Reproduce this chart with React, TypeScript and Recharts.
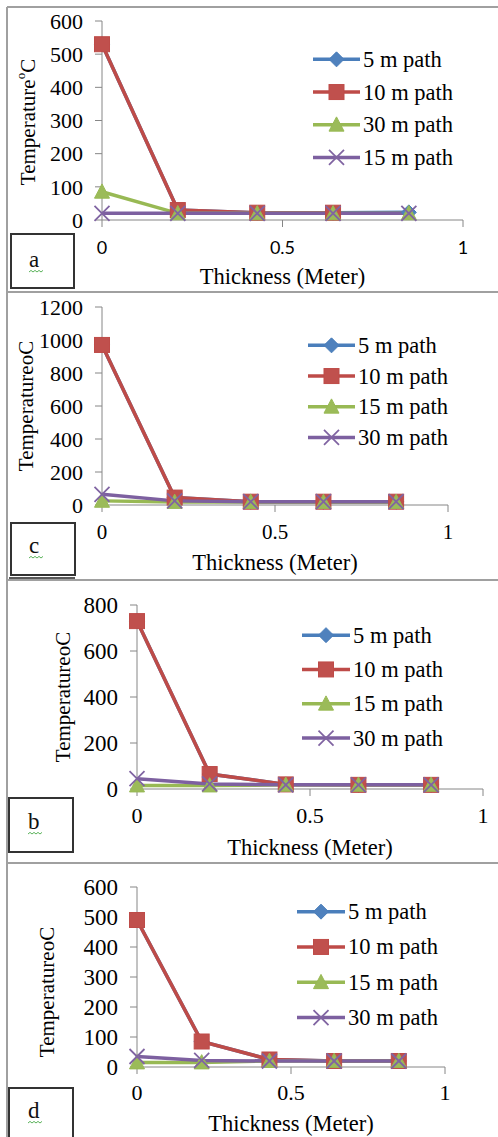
import React from 'react';
import { LineChart, Line, XAxis, YAxis, Legend } from 'recharts';

// ---------- data ----------
const thickness = [0, 0.21, 0.43, 0.64, 0.85];
const xTicks = [0, 0.5, 1];
const xTitle = 'Thickness (Meter)';

// panel a
const aNames = ['5 m path', '10 m path', '30 m path', '15 m path'];
const a5 = [530, 30, 22, 22, 23];
const a10 = [530, 30, 22, 22, null];
const a30 = [85, 20, 20, 20, 20];
const a15 = [20, 20, 20, 20, 20];
const aYTicks = [0, 100, 200, 300, 400, 500, 600];

// panel c
const cNames = ['5 m path', '10 m path', '15 m path', '30 m path'];
const c5 = [970, 45, 20, 20, 20];
const c10 = [970, 45, 20, 20, 20];
const c15 = [25, 18, 18, 18, 18];
const c30 = [65, 25, 20, 20, 20];
const cYTicks = [0, 200, 400, 600, 800, 1000, 1200];

// panel b
const bNames = ['5 m path', '10 m path', '15 m path', '30 m path'];
const b5 = [730, 65, 20, 18, 18];
const b10 = [730, 65, 20, 18, 18];
const b15 = [15, 15, 18, 18, 18];
const b30 = [45, 22, 18, 18, 18];
const bYTicks = [0, 200, 400, 600, 800];

// panel d
const dNames = ['5 m path', '10 m path', '15 m path', '30 m path'];
const d5 = [490, 85, 25, 20, 20];
const d10 = [490, 85, 25, 20, 20];
const d15 = [15, 15, 20, 20, 20];
const d30 = [35, 22, 20, 20, 20];
const dYTicks = [0, 100, 200, 300, 400, 500, 600];

// ---------- styles ----------
const SERIF = '"Liberation Serif", "Times New Roman", serif';
const SANS = 'Lato, "Liberation Sans", sans-serif';
const AXIS = '#868686';
const KINDS = ['diamond', 'square', 'triangle', 'x'];
const LINE_COLORS = ['#4A7EBB', '#BE4B48', '#98B954', '#7D60A0'];
const FILL_COLORS = ['#4F81BD', '#C0504D', '#9BBB59', '#8064A2'];

function Marker({ kind, cx, cy, s }: { kind: string; cx: number; cy: number; s: number }) {
  const h = s / 2;
  if (kind === 'diamond') {
    return (
      <polygon
        points={`${cx},${cy - h} ${cx + h},${cy} ${cx},${cy + h} ${cx - h},${cy}`}
        fill={FILL_COLORS[0]}
        stroke={LINE_COLORS[0]}
        strokeWidth={1}
      />
    );
  }
  if (kind === 'square') {
    return <rect x={cx - h} y={cy - h} width={s} height={s} fill={FILL_COLORS[1]} stroke={LINE_COLORS[1]} strokeWidth={1} />;
  }
  if (kind === 'triangle') {
    return (
      <polygon
        points={`${cx},${cy - h * 1.05} ${cx + h},${cy + h * 0.85} ${cx - h},${cy + h * 0.85}`}
        fill={FILL_COLORS[2]}
        stroke={LINE_COLORS[2]}
        strokeWidth={1}
      />
    );
  }
  return (
    <g stroke={FILL_COLORS[3]} strokeWidth={1.8}>
      <line x1={cx - h} y1={cy - h} x2={cx + h} y2={cy + h} />
      <line x1={cx - h} y1={cy + h} x2={cx + h} y2={cy - h} />
    </g>
  );
}

type Cfg = {
  top: number;
  height: number;
  plotLeft: number;
  plotRight: number;
  plotTop: number;
  plotBottom: number;
  yLabelX: number;
  yLabelY: number;
  xLabelY: number;
  legendLeft: number;
  legendFirst: number;
  legendRow: number;
  legendLineW: number;
  tickFont: number;
  xTickFamily: string;
  xTickFont: number;
  xTickMargin: number;
  superO: boolean;
};

function Panel({ cfg, names, series, yTicks }: { cfg: Cfg; names: string[]; series: (number | null)[][]; yTicks: number[] }) {
  const data = thickness.map((x, i) => ({
    x,
    s0: series[0][i],
    s1: series[1][i],
    s2: series[2][i],
    s3: series[3][i],
  }));
  const yAxisW = 60;
  const bottomH = cfg.height - (cfg.plotBottom - cfg.top);
  const t = cfg.top;

  const xLabel = () => (
    <text
      x={(cfg.plotLeft + cfg.plotRight) / 2}
      y={cfg.xLabelY - t}
      textAnchor="middle"
      dominantBaseline="central"
      fontFamily={SERIF}
      fontSize={22.5}
      fill="#000"
    >
      {xTitle}
    </text>
  );
  const yLabel = () => {
    const x = cfg.yLabelX;
    const y = cfg.yLabelY - t;
    return (
      <text
        x={x}
        y={y}
        transform={`rotate(-90, ${x}, ${y})`}
        textAnchor="middle"
        dominantBaseline="central"
        fontFamily={SERIF}
        fontSize={21}
        fill="#000"
      >
        {cfg.superO ? (
          <>
            Temperature
            <tspan fontSize={13} baselineShift="super">o</tspan>
            <tspan>C</tspan>
          </>
        ) : (
          'TemperatureoC'
        )}
      </text>
    );
  };

  const legendContent = () => (
    <svg width={190} height={cfg.legendRow * names.length} style={{ display: 'block', overflow: 'visible' }}>
      {names.map((n, i) => {
        const cy = cfg.legendRow * (i + 0.5);
        return (
          <g key={n}>
            <line x1={0} x2={cfg.legendLineW} y1={cy} y2={cy} stroke={LINE_COLORS[i]} strokeWidth={3.5} />
            <Marker kind={KINDS[i]} cx={cfg.legendLineW / 2} cy={cy} s={15} />
            <text
              x={cfg.legendLineW + 3}
              y={cy}
              dominantBaseline="central"
              fontFamily={SERIF}
              fontSize={22.5}
              fill="#000"
            >
              {n}
            </text>
          </g>
        );
      })}
    </svg>
  );

  return (
    <div style={{ position: 'absolute', left: 0, top: cfg.top }}>
      <LineChart
        width={498}
        height={cfg.height}
        data={data}
        margin={{ top: cfg.plotTop - t, right: 498 - cfg.plotRight, bottom: 0, left: cfg.plotLeft - yAxisW }}
      >
        <XAxis
          dataKey="x"
          type="number"
          domain={[0, 1]}
          ticks={xTicks}
          interval={0}
          height={bottomH}
          axisLine={{ stroke: AXIS }}
          tickLine={{ stroke: AXIS }}
          tickSize={7}
          tickMargin={cfg.xTickMargin}
          tick={{ fill: '#000', fontSize: cfg.xTickFont, fontFamily: cfg.xTickFamily }}
          label={xLabel}
        />
        <YAxis
          type="number"
          domain={[0, yTicks[yTicks.length - 1]]}
          ticks={yTicks}
          interval={0}
          width={yAxisW}
          axisLine={{ stroke: AXIS }}
          tickLine={{ stroke: AXIS }}
          tickSize={7}
          tickMargin={12}
          tick={{ fill: '#000', fontSize: cfg.tickFont, fontFamily: SERIF }}
          label={yLabel}
        />
        <Legend
          layout="horizontal"
          verticalAlign="middle"
          align="center"
          content={legendContent}
          wrapperStyle={{
            left: cfg.legendLeft,
            top: cfg.legendFirst - t - cfg.legendRow / 2,
            width: 'auto',
            height: 'auto',
          }}
        />
        {[0, 1, 2, 3].map((i) => (
          <Line
            key={i}
            dataKey={`s${i}`}
            name={names[i]}
            type="linear"
            stroke={LINE_COLORS[i]}
            strokeWidth={3.5}
            isAnimationActive={false}
            activeDot={false}
            dot={(p: any) =>
              p.cy == null || p.value == null ? (
                <g key={`${i}-${p.index}`} />
              ) : (
                <Marker key={`${i}-${p.index}`} kind={KINDS[i]} cx={p.cx} cy={p.cy} s={15} />
              )
            }
          />
        ))}
      </LineChart>
    </div>
  );
}

const cfgA: Cfg = {
  top: 0, height: 290, plotLeft: 102, plotRight: 463, plotTop: 21, plotBottom: 220,
  yLabelX: 28, yLabelY: 122, xLabelY: 276,
  legendLeft: 313, legendFirst: 59, legendRow: 32.7, legendLineW: 47,
  tickFont: 22, xTickFamily: SANS, xTickFont: 18, xTickMargin: 14, superO: true,
};
const cfgC: Cfg = {
  top: 285, height: 295, plotLeft: 102, plotRight: 448, plotTop: 307, plotBottom: 505,
  yLabelX: 26, yLabelY: 406, xLabelY: 562,
  legendLeft: 308, legendFirst: 345, legendRow: 30.7, legendLineW: 47,
  tickFont: 22, xTickFamily: SERIF, xTickFont: 21, xTickMargin: 12, superO: false,
};
const cfgB: Cfg = {
  top: 575, height: 290, plotLeft: 137, plotRight: 483, plotTop: 605, plotBottom: 789,
  yLabelX: 63, yLabelY: 697, xLabelY: 847,
  legendLeft: 302, legendFirst: 635, legendRow: 34.3, legendLineW: 48,
  tickFont: 23, xTickFamily: SERIF, xTickFont: 22, xTickMargin: 11, superO: false,
};
const cfgD: Cfg = {
  top: 860, height: 277, plotLeft: 137, plotRight: 445, plotTop: 887, plotBottom: 1067,
  yLabelX: 47, yLabelY: 992, xLabelY: 1123,
  legendLeft: 297, legendFirst: 912, legendRow: 35.3, legendLineW: 48,
  tickFont: 23, xTickFamily: SERIF, xTickFont: 22, xTickMargin: 10, superO: false,
};

function Squiggle({ x, y }: { x: number; y: number }) {
  let d = `M${x},${y}`;
  for (let k = 0; k < 7; k++) d += ` l2,${k % 2 === 0 ? -1.6 : 1.6}`;
  return <path d={d} fill="none" stroke="#5BB35B" strokeWidth={1} />;
}

function PanelTag({ x, y, w, h, letter, lx, base }: { x: number; y: number; w: number; h: number; letter: string; lx: number; base: number }) {
  return (
    <g>
      <rect x={x} y={y} width={w} height={h} fill="#fff" stroke="#333" strokeWidth={2} />
      <text x={lx} y={base} fontFamily={SERIF} fontSize={23} fill="#111">
        {letter}
      </text>
      <Squiggle x={lx} y={base + 5} />
    </g>
  );
}

export default function App() {
  return (
    <div style={{ position: 'absolute', left: 0, top: 0, width: 498, height: 1137, background: '#fff', overflow: 'hidden' }}>
      <svg width={498} height={1137} style={{ position: 'absolute', left: 0, top: 0 }}>
        <line x1={7} y1={7} x2={7} y2={1137} stroke="#a0a0a0" strokeWidth={2} />
        <line x1={7} y1={7} x2={498} y2={7} stroke="#a0a0a0" strokeWidth={2} />
        <line x1={7} y1={292} x2={498} y2={292} stroke="#a0a0a0" strokeWidth={2} />
        <line x1={7} y1={580} x2={498} y2={580} stroke="#a0a0a0" strokeWidth={2} />
        <line x1={9} y1={578} x2={75} y2={578} stroke="#222" strokeWidth={1.5} />
        <line x1={7} y1={863} x2={498} y2={863} stroke="#a0a0a0" strokeWidth={2} />
        <PanelTag x={11} y={234} w={63} h={54} letter="a" lx={29} base={267} />
        <PanelTag x={11} y={523} w={64} h={52} letter="c" lx={29} base={553} />
        <PanelTag x={9} y={798} w={64} h={54} letter="b" lx={28} base={829} />
        <PanelTag x={9} y={1088} w={64} h={60} letter="d" lx={28} base={1118} />
      </svg>
      <Panel cfg={cfgA} names={aNames} series={[a5, a10, a30, a15]} yTicks={aYTicks} />
      <Panel cfg={cfgC} names={cNames} series={[c5, c10, c15, c30]} yTicks={cYTicks} />
      <Panel cfg={cfgB} names={bNames} series={[b5, b10, b15, b30]} yTicks={bYTicks} />
      <Panel cfg={cfgD} names={dNames} series={[d5, d10, d15, d30]} yTicks={dYTicks} />
    </div>
  );
}
